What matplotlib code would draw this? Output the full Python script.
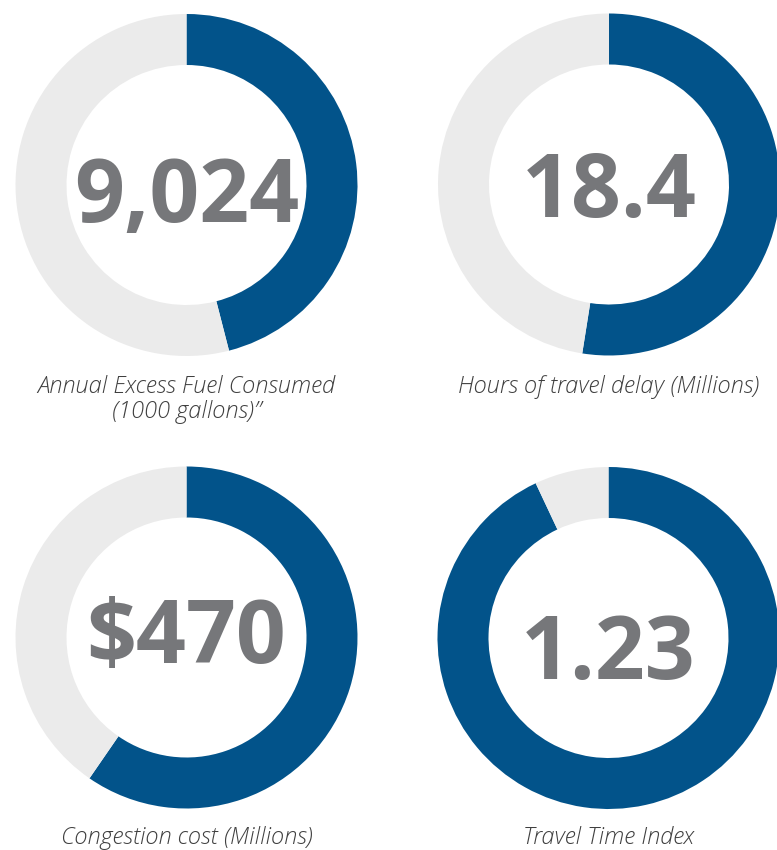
import matplotlib.pyplot as plt

# share of each ring that is filled
shares = [0.46, 0.525, 0.596, 0.93]
numbers = ["9,024", "18.4", "$470", "1.23"]
captions = ["Annual Excess Fuel Consumed\n(1000 gallons)\u201d",
            "Hours of travel delay (Millions)",
            "Congestion cost (Millions)",
            "Travel Time Index"]

# layout in pixels, y measured from the bottom of the figure
centers = [(186.5, 665), (609, 665.5), (186.5, 212.5), (608.5, 212)]
number_base = [628, 633, 187, 171]
caption_base = [431.7, 457, 6, 6]
outer_r = 171
ring_w = 51

blue = "#02538A"
ring_gray = "#EBEBEB"
num_gray = "#76777A"
text_gray = "#3F3F3F"

fig = plt.figure(figsize=(7.77, 8.5), dpi=100)
ax = fig.add_axes([0, 0, 1, 1])

for i in range(4):
    ax.pie([shares[i], 1 - shares[i]], colors=[blue, ring_gray],
           startangle=90, counterclock=False, radius=outer_r,
           center=centers[i], wedgeprops=dict(width=ring_w, linewidth=0))
    ax.text(centers[i][0], number_base[i], numbers[i], ha="center", va="baseline",
            fontsize=63, fontweight="bold", family="Open Sans", color=num_gray)
    ax.text(centers[i][0], caption_base[i], captions[i], ha="center", va="baseline",
            fontsize=17, fontstyle="italic", fontweight="light", family="Open Sans",
            color=text_gray, linespacing=1.1, multialignment="center")

ax.set_xlim(0, 777)
ax.set_ylim(0, 850)
ax.set_aspect("equal")
ax.axis("off")

fig.savefig("out.png", dpi=100)
